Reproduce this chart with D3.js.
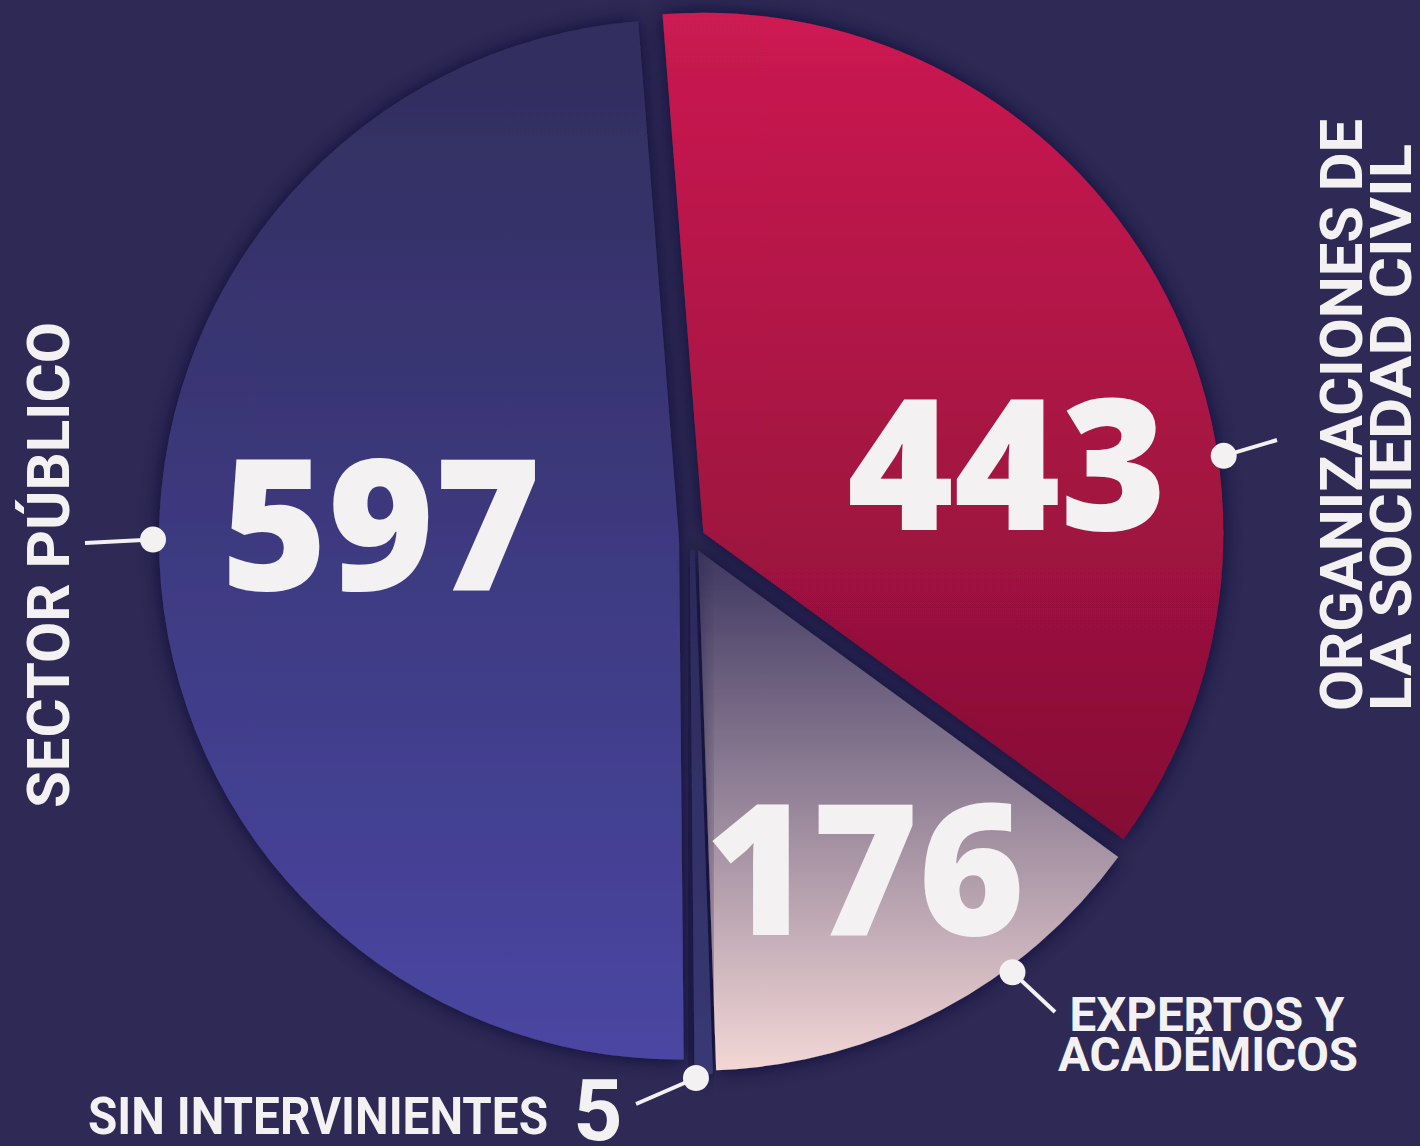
<!DOCTYPE html>
<html>
<head>
<meta charset="utf-8">
<script src="https://cdn.jsdelivr.net/npm/d3@7/dist/d3.min.js"></script>
<style>
  html, body { margin: 0; padding: 0; background: #2e2955; }
  svg { display: block; }
</style>
</head>
<body>
<div id="chart"></div>
<script>
// data
var categories = ["ORGANIZACIONES DE LA SOCIEDAD CIVIL", "EXPERTOS Y ACADÉMICOS", "SIN INTERVINIENTES", "SECTOR PÚBLICO"];
var values = [443, 176, 5, 597];
var valueLabels = ["443", "176", "5", "597"];

var width = 1420, height = 1146;
var cx = 692, cy = 539, radius = 520, explode = 13;
var rot = -4.5 * Math.PI / 180;

var svg = d3.select("#chart").append("svg")
    .attr("width", width)
    .attr("height", height);

svg.append("rect")
    .attr("width", width)
    .attr("height", height)
    .attr("fill", "#2e2955");

var defs = svg.append("defs");

var f = defs.append("filter").attr("id", "shadow")
    .attr("x", "-20%").attr("y", "-20%").attr("width", "140%").attr("height", "140%");
f.append("feDropShadow")
    .attr("dx", 0).attr("dy", 0)
    .attr("stdDeviation", 10)
    .attr("flood-color", "#15122e")
    .attr("flood-opacity", 0.75);

// vertical gradients per slice
var grads = [
    ["#cc1a52", "#850e35"],
    ["#3e3760", "#f3d7d6"],
    ["#2c2a5a", "#383874"],
    ["#312d5d", "#4946a2"]
];
grads.forEach(function (g, i) {
    var lg = defs.append("linearGradient")
        .attr("id", "grad" + i)
        .attr("x1", 0).attr("y1", 0).attr("x2", 0).attr("y2", 1);
    lg.append("stop").attr("offset", "0%").attr("stop-color", g[0]);
    lg.append("stop").attr("offset", "100%").attr("stop-color", g[1]);
});

var pie = d3.pie()
    .sort(null)
    .startAngle(rot)
    .endAngle(rot + 2 * Math.PI);

var arcs = pie(values);

var arc = d3.arc()
    .innerRadius(0)
    .outerRadius(radius);

function offset(d) {
    var a = (d.startAngle + d.endAngle) / 2;
    return [cx + explode * Math.sin(a), cy - explode * Math.cos(a)];
}

// draw blue first, then the others
var order = [3, 0, 1, 2];
var g = svg.append("g");
order.forEach(function (i) {
    var d = arcs[i];
    var o = offset(d);
    g.append("path")
        .attr("transform", "translate(" + o[0] + "," + o[1] + ")")
        .attr("d", arc(d))
        .attr("fill", "url(#grad" + i + ")")
        .attr("stroke", i === 2 ? "url(#grad2)" : "none")
        .attr("stroke-width", i === 2 ? 5 : 0)
        .attr("stroke-linejoin", "round")
        .attr("filter", "url(#shadow)");
});

// big numbers
var numPos = [[1007, 530], [865, 935], null, [381, 590]];
svg.append("g").selectAll("text")
    .data(arcs.filter(function (d, i) { return numPos[i]; }))
    .enter()
    .append("text")
    .attr("x", function (d) { return numPos[d.index][0]; })
    .attr("y", function (d) { return numPos[d.index][1]; })
    .attr("text-anchor", "middle")
    .attr("font-family", "'Open Sans', sans-serif")
    .attr("font-weight", 800)
    .attr("font-size", 182)
    .attr("fill", "#f3f1f1")
    .text(function (d) { return valueLabels[d.index]; });

// leader dots and lines
var leaders = [
    { i: 0, ang: 81.6, end: [1277, 440] },
    { i: 1, ang: 143.3, end: [1055, 1012] },
    { i: 2, ang: 179.6, end: [636, 1104] },
    { i: 3, ang: 270, end: [85, 543] }
];
var lg2 = svg.append("g");
leaders.forEach(function (l) {
    var o = offset(arcs[l.i]);
    var a = l.ang * Math.PI / 180;
    var r = radius + 6;
    var px = o[0] + r * Math.sin(a), py = o[1] - r * Math.cos(a);
    lg2.append("line")
        .attr("x1", px).attr("y1", py)
        .attr("x2", l.end[0]).attr("y2", l.end[1])
        .attr("stroke", "#f3f1f1")
        .attr("stroke-width", 4);
    lg2.append("circle")
        .attr("cx", px).attr("cy", py)
        .attr("r", 13)
        .attr("fill", "#f3f1f1");
});

// category labels
var lab = svg.append("g")
    .attr("font-family", "Roboto, sans-serif")
    .attr("font-weight", 700)
    .attr("fill", "#f3f1f1");

function vtext(x, y, s, size, len, anchor) {
    lab.append("text")
        .attr("transform", "translate(" + x + "," + y + ") rotate(-90)")
        .attr("text-anchor", anchor)
        .attr("font-size", size)
        .attr("textLength", len)
        .attr("lengthAdjust", "spacingAndGlyphs")
        .text(s);
}
function htext(x, y, s, size, len, anchor) {
    lab.append("text")
        .attr("x", x).attr("y", y)
        .attr("text-anchor", anchor)
        .attr("font-size", size)
        .attr("textLength", len)
        .attr("lengthAdjust", "spacingAndGlyphs")
        .text(s);
}

vtext(69, 565, categories[3], 60, 486, "middle");
vtext(1362, 711, "ORGANIZACIONES DE", 60, 592, "start");
vtext(1411, 711, "LA SOCIEDAD CIVIL", 58, 567, "start");
htext(1207, 1031, "EXPERTOS Y", 48, 275, "middle");
htext(1208, 1071, "ACADÉMICOS", 48, 300, "middle");
htext(88, 1134, categories[2], 52, 460, "start");
lab.append("text")
    .attr("x", 598).attr("y", 1140)
    .attr("text-anchor", "middle")
    .attr("font-size", 86)
    .text(valueLabels[2]);
</script>
</body>
</html>
